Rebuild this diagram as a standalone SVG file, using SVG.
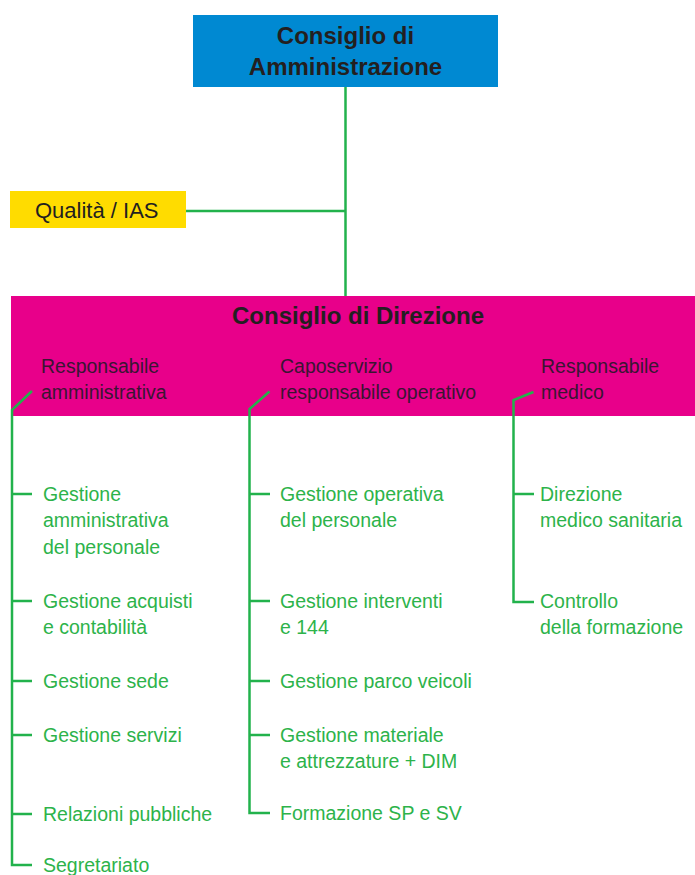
<svg xmlns="http://www.w3.org/2000/svg" width="695" height="875" viewBox="0 0 695 875">
<style>
.hd{font-family:"Liberation Sans",Arial,sans-serif;font-weight:bold;font-size:24px;fill:#231f20;text-anchor:middle}
.sub{font-family:"Liberation Sans",Arial,sans-serif;font-size:19.5px;fill:#3a1533}
.lb{font-family:"Liberation Sans",Arial,sans-serif;font-size:19.5px;fill:#2db34a}
.q{font-family:"Liberation Sans",Arial,sans-serif;font-size:22px;fill:#231f20}
.ln{fill:none;stroke:#22b24c;stroke-width:2.5}
</style>
<rect width="695" height="875" fill="#ffffff"/>
<g id="cda">
<rect x="193" y="15" width="305" height="72" fill="#0089d2"/>
<text class="hd" x="345.5" y="44">Consiglio di</text>
<text class="hd" x="345.5" y="75">Amministrazione</text>
</g>
<g id="qualita">
<rect x="10" y="191" width="176" height="37" fill="#ffdc00"/>
<text class="q" x="35" y="218">Qualità / IAS</text>
</g>
<g id="cdd">
<rect x="11" y="296" width="684" height="120" fill="#e8008a"/>
<text class="hd" x="358" y="324">Consiglio di Direzione</text>
<text class="sub" x="41" y="373">Responsabile</text>
<text class="sub" x="41" y="399">amministrativa</text>
<text class="sub" x="280" y="373">Caposervizio</text>
<text class="sub" x="280" y="399">responsabile operativo</text>
<text class="sub" x="541" y="373">Responsabile</text>
<text class="sub" x="541" y="399">medico</text>
</g>
<g id="col1">
<text class="lb" x="43" y="501">Gestione</text>
<text class="lb" x="43" y="527">amministrativa</text>
<text class="lb" x="43" y="554">del personale</text>
<text class="lb" x="43" y="608">Gestione acquisti</text>
<text class="lb" x="43" y="634">e contabilità</text>
<text class="lb" x="43" y="688">Gestione sede</text>
<text class="lb" x="43" y="742">Gestione servizi</text>
<text class="lb" x="43" y="821">Relazioni pubbliche</text>
<text class="lb" x="43" y="872">Segretariato</text>
</g>
<g id="col2">
<text class="lb" x="280" y="501">Gestione operativa</text>
<text class="lb" x="280" y="527">del personale</text>
<text class="lb" x="280" y="608">Gestione interventi</text>
<text class="lb" x="280" y="634">e 144</text>
<text class="lb" x="280" y="688">Gestione parco veicoli</text>
<text class="lb" x="280" y="742">Gestione materiale</text>
<text class="lb" x="280" y="768">e attrezzature + DIM</text>
<text class="lb" x="280" y="820">Formazione SP e SV</text>
</g>
<g id="col3">
<text class="lb" x="540" y="501">Direzione</text>
<text class="lb" x="540" y="527">medico sanitaria</text>
<text class="lb" x="540" y="608">Controllo</text>
<text class="lb" x="540" y="634">della formazione</text>
</g>
<g id="connectors">
<path class="ln" d="M345.5 87V296"/>
<path class="ln" d="M186 211H345.5"/>
<path class="ln" d="M32 391L12 410V865H32"/>
<path class="ln" d="M12 494H32M12 601H32M12 681H32M12 735H32M12 814H32"/>
<path class="ln" d="M269.5 391.5L249.5 409V813H270"/>
<path class="ln" d="M249.5 494H270M249.5 601H270M249.5 681H270M249.5 735H270"/>
<path class="ln" d="M533.5 392L513.5 400V602H534"/>
<path class="ln" d="M513.5 494H534"/>
</g>
</svg>
